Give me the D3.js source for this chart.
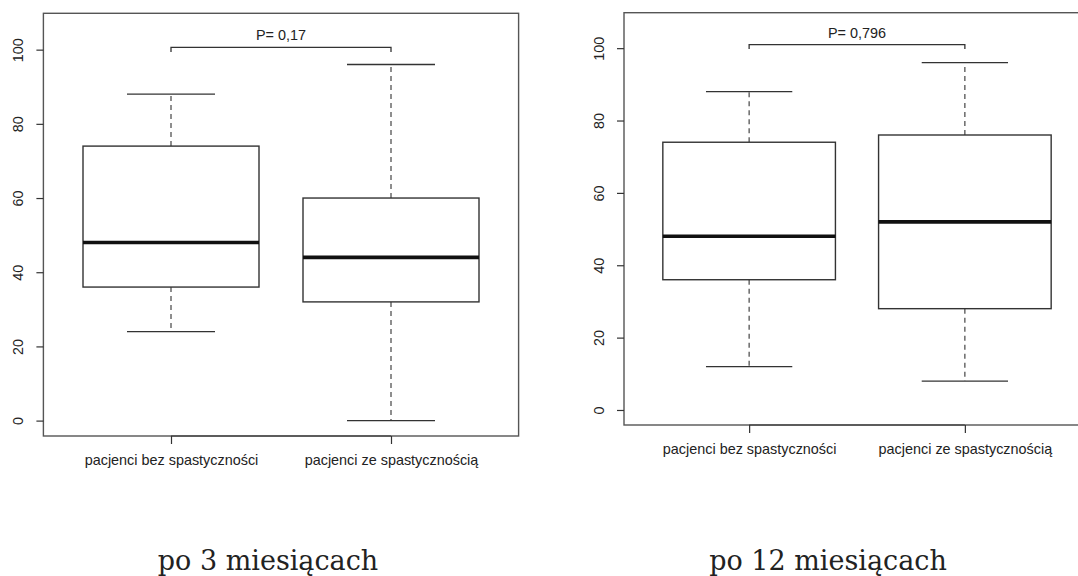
<!DOCTYPE html>
<html>
<head>
<meta charset="utf-8">
<script src="https://cdn.jsdelivr.net/npm/d3@7"></script>
<style>
  html, body { margin: 0; padding: 0; background: #fff; }
  svg { display: block; }
  .axis text { font-family: "Liberation Sans", Arial, sans-serif; font-size: 14.4px; fill: #222; }
  .axis path, .axis line { stroke: #333; stroke-width: 1.2; }
</style>
</head>
<body>
<svg id="chart" width="1078" height="576"></svg>
<script>
// Group names shown on the x axis
const groups = ["pacjenci bez spastyczności", "pacjenci ze spastycznością"];

// Five-number summaries [min, Q1, median, Q3, max] for each group
const statsMonth3 = [[24, 36, 48, 74, 88], [0, 32, 44, 60, 96]];
const statsMonth12 = [[12, 36, 48, 74, 88], [8, 28, 52, 76, 96]];

// Significance labels and bracket heights (top of bracket, bottom of legs)
const pLabels = ["P= 0,17", "P= 0,796"];
const bracketTop = [100.6, 101];
const bracketLeg = [99.4, 99.8];

// Captions under each plot
const captions = ["po 3 miesiącach", "po 12 miesiącach"];

// Y axis tick values
const yTicks = [0, 20, 40, 60, 80, 100];

const svg = d3.select("#chart");

const panels = [
  { stats: statsMonth3, p: 0, left: 43.4, right: 518.6, top: 13.3, bottom: 436, captionX: 268 },
  { stats: statsMonth12, p: 1, left: 624, right: 1090, top: 12.7, bottom: 425, captionX: 828 }
];

panels.forEach(pan => {
  const g = svg.append("g");
  const x = d3.scaleLinear().domain([0.42, 2.58]).range([pan.left, pan.right]);
  const y = d3.scaleLinear().domain([-4.15, 109.8]).range([pan.bottom, pan.top]);
  const step = x(2) - x(1);
  const boxW = step * 0.8;
  const capW = boxW / 2;

  // plot frame
  g.append("rect")
    .attr("x", pan.left).attr("y", pan.top)
    .attr("width", pan.right - pan.left).attr("height", pan.bottom - pan.top)
    .attr("fill", "none").attr("stroke", "#555").attr("stroke-width", 1.4);

  // y axis
  const ya = g.append("g").attr("class", "axis")
    .attr("transform", `translate(${pan.left},0)`)
    .call(d3.axisLeft(y).tickValues(yTicks).tickSize(7).tickSizeOuter(0).tickFormat(d3.format("d")));
  ya.select(".domain").remove();
  ya.selectAll(".tick text")
    .attr("x", 0).attr("y", 0).attr("dy", 0)
    .attr("text-anchor", "middle")
    .attr("dominant-baseline", "central")
    .attr("transform", "translate(-25,0) rotate(-90)");

  // x axis
  const xa = g.append("g").attr("class", "axis")
    .attr("transform", `translate(0,${pan.bottom})`)
    .call(d3.axisBottom(x).tickValues([1, 2]).tickSize(8).tickSizeOuter(0)
      .tickFormat((d, i) => groups[i]));
  xa.select(".domain").attr("d", `M${x(1)},0H${x(2)}`).attr("stroke", "#111");
  xa.selectAll(".tick text").attr("y", 20).attr("dy", "0.6em");

  // boxes
  const box = g.selectAll(".box").data(pan.stats).join("g").attr("class", "box");
  const cx = (d, i) => x(i + 1);

  // whiskers (dashed)
  box.append("line")
    .attr("x1", cx).attr("x2", cx)
    .attr("y1", d => y(d[3])).attr("y2", d => y(d[4]))
    .attr("stroke", "#444").attr("stroke-width", 1.2).attr("stroke-dasharray", "5,4");
  box.append("line")
    .attr("x1", cx).attr("x2", cx)
    .attr("y1", d => y(d[1])).attr("y2", d => y(d[0]))
    .attr("stroke", "#444").attr("stroke-width", 1.2).attr("stroke-dasharray", "5,4");

  // whisker caps
  box.append("line")
    .attr("x1", (d, i) => cx(d, i) - capW / 2).attr("x2", (d, i) => cx(d, i) + capW / 2)
    .attr("y1", d => y(d[4])).attr("y2", d => y(d[4]))
    .attr("stroke", "#333").attr("stroke-width", 1.3);
  box.append("line")
    .attr("x1", (d, i) => cx(d, i) - capW / 2).attr("x2", (d, i) => cx(d, i) + capW / 2)
    .attr("y1", d => y(d[0])).attr("y2", d => y(d[0]))
    .attr("stroke", "#333").attr("stroke-width", 1.3);

  // interquartile box
  box.append("rect")
    .attr("x", (d, i) => cx(d, i) - boxW / 2).attr("width", boxW)
    .attr("y", d => y(d[3])).attr("height", d => y(d[1]) - y(d[3]))
    .attr("fill", "#fff").attr("stroke", "#333").attr("stroke-width", 1.4);

  // median
  box.append("line")
    .attr("x1", (d, i) => cx(d, i) - boxW / 2).attr("x2", (d, i) => cx(d, i) + boxW / 2)
    .attr("y1", d => y(d[2])).attr("y2", d => y(d[2]))
    .attr("stroke", "#111").attr("stroke-width", 3.6);

  // significance bracket
  const bt = y(bracketTop[pan.p]), bl = y(bracketLeg[pan.p]);
  g.append("path")
    .attr("d", `M${x(1)},${bl}V${bt}H${x(2)}V${bl}`)
    .attr("fill", "none").attr("stroke", "#333").attr("stroke-width", 1.3);
  g.append("text")
    .attr("x", (x(1) + x(2)) / 2).attr("y", bt - 7)
    .attr("text-anchor", "middle")
    .attr("font-family", "Liberation Sans, Arial, sans-serif")
    .attr("font-size", 14.4).attr("fill", "#222")
    .text(pLabels[pan.p]);

  // caption
  svg.append("text")
    .attr("x", pan.captionX).attr("y", 570)
    .attr("text-anchor", "middle")
    .attr("font-family", "DejaVu Serif, serif")
    .attr("font-size", 27).attr("fill", "#222")
    .text(captions[pan.p]);
});
</script>
</body>
</html>
